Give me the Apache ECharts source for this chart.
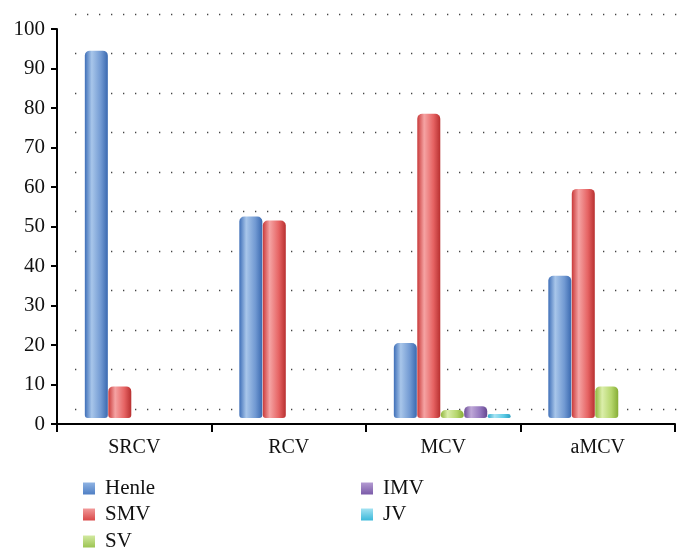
<!DOCTYPE html>
<html>
<head>
<meta charset="utf-8">
<script src="https://cdn.jsdelivr.net/npm/echarts@6/dist/echarts.min.js"></script>
<style>html,body{margin:0;padding:0;background:#fff;}#c{width:684px;height:550px;}</style>
</head>
<body>
<div id="c"></div>
<script>
const categories = ['SRCV', 'RCV', 'MCV', 'aMCV'];
const seriesNames = ['Henle', 'SMV', 'SV', 'IMV', 'JV'];
const henle = [93, 51, 19, 36];
const smv = [8, 50, 77, 58];
const sv = ['-', '-', 2, 8];
const imv = ['-', '-', 3, '-'];
const jv = ['-', '-', 1, '-'];
const yTicks = { min: 0, max: 100, interval: 10 };

function grad(edge, light, mid, dark) {
  return new echarts.graphic.LinearGradient(0, 0, 1, 0, [
    { offset: 0, color: edge },
    { offset: 0.3, color: light },
    { offset: 0.7, color: mid },
    { offset: 1, color: dark }
  ]);
}
const FONT = '"Liberation Serif", serif';
const colors = {
  Henle: grad('#3f6fb8', '#a8c6ea', '#7199d2', '#3a69b0'),
  SMV: grad('#c93a3a', '#f5a3a3', '#e66363', '#b83030'),
  SV: grad('#8fb63c', '#dbeeaa', '#b5d66c', '#86ad35'),
  IMV: grad('#6d4f98', '#bfa8d8', '#9376bd', '#654790'),
  JV: grad('#2fa9cc', '#a8e4f3', '#5ccbe6', '#2a9fc0')
};
function vgrad(top, bottom) {
  return new echarts.graphic.LinearGradient(0, 0, 0, 1, [
    { offset: 0, color: top }, { offset: 1, color: bottom }
  ]);
}
const legendColors = {
  Henle: vgrad('#8fb3e3', '#4f7fc4'),
  SMV: vgrad('#f29a9a', '#d94848'),
  SV: vgrad('#d2e9a0', '#9cc452'),
  IMV: vgrad('#b49bd2', '#7a5aa8'),
  JV: vgrad('#a3e2f2', '#3bb9da')
};
const legendPos = {
  Henle: [83, 478], SMV: [83, 504], SV: [83, 531],
  IMV: [361, 478], JV: [361, 504]
};

function barSeries(name, data) {
  return {
    name: name, type: 'bar', xAxisIndex: 2, yAxisIndex: 2,
    data: data, barWidth: 23, barGap: '2%',
    itemStyle: { color: colors[name], borderRadius: [5, 5, 3, 3] }
  };
}

const legends = seriesNames.map(function (n) {
  return {
    orient: 'horizontal', left: legendPos[n][0], top: legendPos[n][1], padding: 0,
    itemWidth: 12, itemHeight: 12, icon: 'rect',
    data: [{ name: n, itemStyle: { color: legendColors[n] } }],
    textStyle: { fontFamily: FONT, fontSize: 21, lineHeight: 20, color: '#111', padding: [0, 0, 0, 5] }
  };
});

const chart = echarts.init(document.getElementById('c'));
chart.setOption({
  animation: false,
  backgroundColor: '#fff',
  grid: [
    { left: 57, right: 9, top: 29, bottom: 126 },
    { left: 75, right: 0, top: 14, bottom: 141 },
    { left: 66, right: 0, top: 23, bottom: 132 }
  ],
  xAxis: [
    {
      type: 'category', gridIndex: 0, data: categories,
      axisLine: { lineStyle: { color: '#000', width: 2 } },
      axisTick: { show: true, length: 8, lineStyle: { color: '#000', width: 2 } },
      axisLabel: { color: '#111', fontFamily: FONT, fontSize: 20, margin: 14 }
    },
    { type: 'category', gridIndex: 1, data: categories, show: false },
    { type: 'category', gridIndex: 2, data: categories, show: false }
  ],
  yAxis: [
    {
      type: 'value', gridIndex: 0, min: yTicks.min, max: yTicks.max, interval: yTicks.interval,
      axisLine: { show: true, lineStyle: { color: '#000', width: 2 } },
      axisTick: { show: true, length: 6, lineStyle: { color: '#000', width: 2 } },
      axisLabel: { color: '#111', fontFamily: FONT, fontSize: 21, margin: 12 },
      splitLine: { show: false }
    },
    {
      type: 'value', gridIndex: 1, min: yTicks.min, max: yTicks.max, interval: yTicks.interval,
      axisLine: { show: false }, axisTick: { show: false }, axisLabel: { show: false },
      splitLine: { show: true, lineStyle: { color: '#444', width: 1.3, type: [1.3, 10.7] } }
    },
    {
      type: 'value', gridIndex: 2, min: yTicks.min, max: yTicks.max, interval: yTicks.interval,
      show: false, splitLine: { show: false }
    }
  ],
  legend: legends,
  series: [
    barSeries('Henle', henle),
    barSeries('SMV', smv),
    barSeries('SV', sv),
    barSeries('IMV', imv),
    barSeries('JV', jv)
  ]
});
</script>
</body>
</html>
